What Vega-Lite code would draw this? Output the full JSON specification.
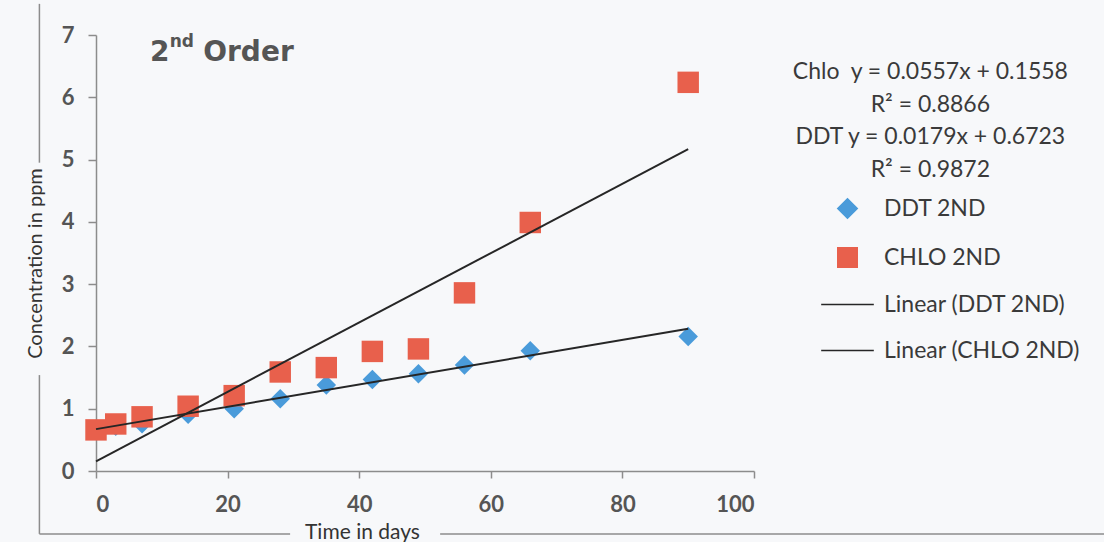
{
  "$schema": "https://vega.github.io/schema/vega-lite/v6.json",
  "width": 658,
  "height": 436,
  "autosize": "none",
  "padding": {"left": 96, "top": 35, "right": 350, "bottom": 71},
  "background": "#f7f8fa",
  "datasets": {
    "measurements": [
      {"day": 0, "conc": 0.67, "series": "DDT 2ND"},
      {"day": 3, "conc": 0.72, "series": "DDT 2ND"},
      {"day": 7, "conc": 0.76, "series": "DDT 2ND"},
      {"day": 14, "conc": 0.91, "series": "DDT 2ND"},
      {"day": 21, "conc": 1.0, "series": "DDT 2ND"},
      {"day": 28, "conc": 1.16, "series": "DDT 2ND"},
      {"day": 35, "conc": 1.38, "series": "DDT 2ND"},
      {"day": 42, "conc": 1.47, "series": "DDT 2ND"},
      {"day": 49, "conc": 1.56, "series": "DDT 2ND"},
      {"day": 56, "conc": 1.7, "series": "DDT 2ND"},
      {"day": 66, "conc": 1.93, "series": "DDT 2ND"},
      {"day": 90, "conc": 2.16, "series": "DDT 2ND"},
      {"day": 0, "conc": 0.66, "series": "CHLO 2ND"},
      {"day": 3, "conc": 0.755, "series": "CHLO 2ND"},
      {"day": 7, "conc": 0.87, "series": "CHLO 2ND"},
      {"day": 14, "conc": 1.04, "series": "CHLO 2ND"},
      {"day": 21, "conc": 1.21, "series": "CHLO 2ND"},
      {"day": 28, "conc": 1.59, "series": "CHLO 2ND"},
      {"day": 35, "conc": 1.66, "series": "CHLO 2ND"},
      {"day": 42, "conc": 1.92, "series": "CHLO 2ND"},
      {"day": 49, "conc": 1.96, "series": "CHLO 2ND"},
      {"day": 56, "conc": 2.86, "series": "CHLO 2ND"},
      {"day": 66, "conc": 3.99, "series": "CHLO 2ND"},
      {"day": 90, "conc": 6.24, "series": "CHLO 2ND"}
    ],
    "trend": [
      {"day": 0, "conc": 0.6723, "series": "Linear (DDT 2ND)"},
      {"day": 90, "conc": 2.2833, "series": "Linear (DDT 2ND)"},
      {"day": 0, "conc": 0.1558, "series": "Linear (CHLO 2ND)"},
      {"day": 90, "conc": 5.1688, "series": "Linear (CHLO 2ND)"}
    ]
  },
  "layer": [
    {
      "data": {"values": [{}]},
      "mark": {"type": "rule", "color": "#8c8c8c", "strokeWidth": 1.5, "clip": false},
      "encoding": {"x": {"datum": -8.6}, "y": {"datum": 7.5}, "y2": {"datum": 4.95}}
    },
    {
      "data": {"values": [{}]},
      "mark": {"type": "rule", "color": "#8c8c8c", "strokeWidth": 1.5, "clip": false},
      "encoding": {"x": {"datum": -8.6}, "y": {"datum": 1.54}, "y2": {"datum": -1.01}}
    },
    {
      "data": {"values": [{}]},
      "mark": {"type": "rule", "color": "#8c8c8c", "strokeWidth": 1.5, "clip": false},
      "encoding": {"x": {"datum": -8.6}, "x2": {"datum": 29.5}, "y": {"datum": -1.01}}
    },
    {
      "data": {"values": [{}]},
      "mark": {"type": "rule", "color": "#8c8c8c", "strokeWidth": 1.5, "clip": false},
      "encoding": {"x": {"datum": 52.3}, "x2": {"datum": 153.5}, "y": {"datum": -1.01}}
    },
    {
      "data": {"name": "measurements"},
      "mark": {"type": "point", "filled": true, "opacity": 1},
      "encoding": {
        "x": {
          "field": "day", "type": "quantitative",
          "scale": {"domain": [0, 100], "nice": false, "zero": false},
          "axis": {
            "title": "Time in days",
            "titleFontSize": 21,
            "values": [0, 20, 40, 60, 80, 100],
            "format": "d",
            "tickSize": 7,
            "labelPadding": 16,
            "labelBaseline": "top",
            "titleX": 266,
            "titleY": 61,
            "titleAlign": "center",
            "titleBaseline": "middle"
          }
        },
        "y": {
          "field": "conc", "type": "quantitative",
          "scale": {"domain": [0, 7], "nice": false},
          "axis": {
            "title": "Concentration in ppm",
            "values": [0, 1, 2, 3, 4, 5, 6, 7],
            "format": "d",
            "tickSize": 8,
            "labelPadding": 14,
            "titleX": -61,
            "titleY": 228,
            "titleAngle": -90,
            "titleAlign": "center",
            "titleBaseline": "middle"
          }
        },
        "color": {
          "field": "series", "type": "nominal",
          "scale": {
            "domain": ["DDT 2ND", "CHLO 2ND", "Linear (DDT 2ND)", "Linear (CHLO 2ND)"],
            "range": ["#4a9bda", "#e8604c", "#262626", "#262626"]
          },
          "legend": {
            "title": null,
            "orient": "none",
            "legendX": 740,
            "legendY": 162,
            "symbolSize": 380,
            "labelOffset": 25,
            "rowPadding": 22,
            "labelFont": "Lato",
            "labelFontSize": 23,
            "labelColor": "#3a3a3a",
            "labelLimit": 400,
            "encode": {
              "symbols": {
                "update": {
                  "stroke": {"scale": "color", "field": "value"},
                  "strokeWidth": {"signal": "indexof(datum.value, 'Linear') === 0 ? 2 : 0"},
                  "opacity": {"value": 1}
                }
              }
            }
          }
        },
        "shape": {
          "field": "series", "type": "nominal",
          "scale": {
            "domain": ["DDT 2ND", "CHLO 2ND", "Linear (DDT 2ND)", "Linear (CHLO 2ND)"],
            "range": ["diamond", "square", "M-2.7,0H2.7", "M-2.7,0H2.7"]
          }
        },
        "size": {
          "field": "series", "type": "nominal",
          "scale": {"domain": ["DDT 2ND", "CHLO 2ND"], "range": [380, 460]},
          "legend": null
        }
      }
    },
    {
      "data": {"name": "trend"},
      "mark": {"type": "line", "strokeWidth": 2},
      "encoding": {
        "x": {"field": "day", "type": "quantitative"},
        "y": {"field": "conc", "type": "quantitative"},
        "color": {"field": "series", "type": "nominal"},
        "detail": {"field": "series"}
      }
    },
    {
      "data": {"values": [{}]},
      "mark": {
        "type": "text", "align": "center", "baseline": "alphabetic",
        "font": "Lato", "fontSize": 23, "color": "#3a3a3a", "lineHeight": 32.5,
        "text": ["Chlo\u00a0 y = 0.0557x + 0.1558", "R² = 0.8866", "DDT y = 0.0179x + 0.6723", "R² = 0.9872"]
      },
      "encoding": {"x": {"datum": 126.8}, "y": {"datum": 6.29}}
    },
    {
      "data": {"values": [{}]},
      "mark": {"type": "text", "align": "left", "baseline": "alphabetic", "font": "DejaVu Sans", "fontWeight": "bold", "fontSize": 28, "color": "#555555", "text": "2"},
      "encoding": {"x": {"datum": 8.2}, "y": {"datum": 6.58}}
    },
    {
      "data": {"values": [{}]},
      "mark": {"type": "text", "align": "left", "baseline": "alphabetic", "font": "DejaVu Sans", "fontWeight": "bold", "fontSize": 17, "color": "#555555", "text": "nd"},
      "encoding": {"x": {"datum": 11.2}, "y": {"datum": 6.8}}
    },
    {
      "data": {"values": [{}]},
      "mark": {"type": "text", "align": "left", "baseline": "alphabetic", "font": "DejaVu Sans", "fontWeight": "bold", "fontSize": 28, "color": "#555555", "text": "Order"},
      "encoding": {"x": {"datum": 16.3}, "y": {"datum": 6.58}}
    }
  ],
  "config": {
    "view": {"stroke": null},
    "axis": {
      "grid": false,
      "domainColor": "#8c8c8c",
      "domainWidth": 1.5,
      "tickColor": "#8c8c8c",
      "tickWidth": 1.5,
      "labelFont": "Lato",
      "labelFontSize": 22,
      "labelFontWeight": "bold",
      "labelColor": "#555555",
      "titleFont": "Lato",
      "titleFontSize": 20,
      "titleFontWeight": "normal",
      "titleColor": "#333333"
    }
  }
}
